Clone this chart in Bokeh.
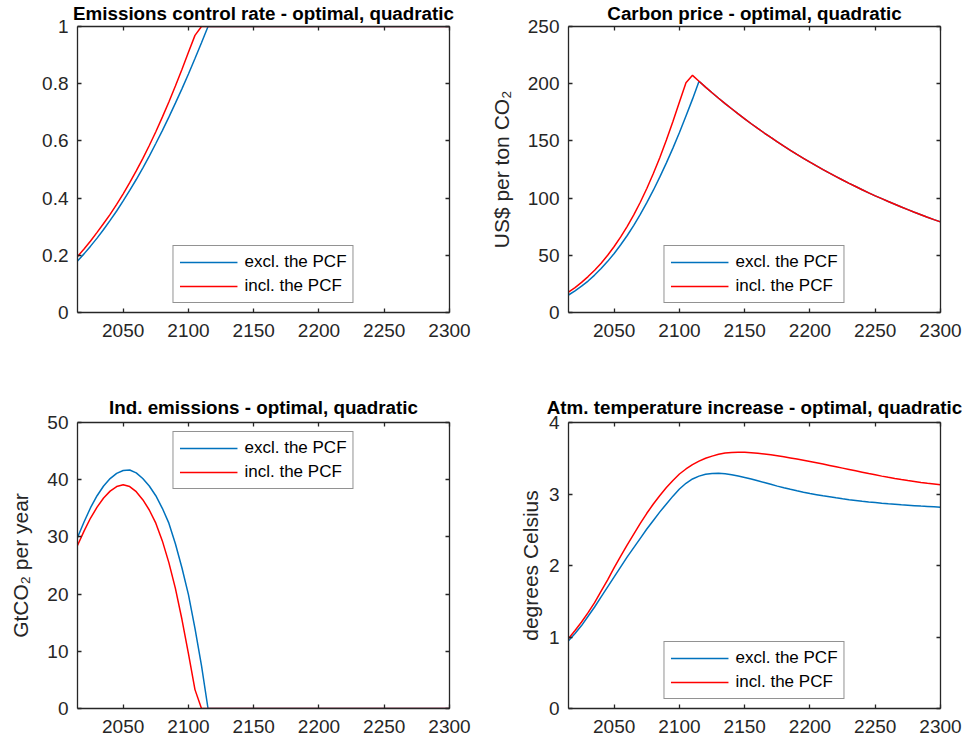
from bokeh.plotting import figure
from bokeh.models import (Range1d, LinearAxis, FixedTicker, Legend, LegendItem,
                          CustomJSTickFormatter)
from bokeh.layouts import gridplot
from bokeh.embed import file_html
from bokeh.resources import INLINE

# ---------------- data ----------------
years = list(range(2015, 2305, 5))  # 58 periods, 2015..2300

mu_excl = [0.180, 0.205, 0.232, 0.260, 0.290, 0.322, 0.355, 0.390, 0.427, 0.465,
           0.505, 0.547, 0.591, 0.636, 0.683, 0.732, 0.782, 0.834, 0.888, 0.943,
           1.0, 1.0, 1.0, 1.0, 1.0, 1.0, 1.0, 1.0, 1.0, 1.0,
           1.0, 1.0, 1.0, 1.0, 1.0, 1.0, 1.0, 1.0, 1.0, 1.0,
           1.0, 1.0, 1.0, 1.0, 1.0, 1.0, 1.0, 1.0, 1.0, 1.0,
           1.0, 1.0, 1.0, 1.0, 1.0, 1.0, 1.0, 1.0]
mu_incl = [0.196, 0.222, 0.250, 0.280, 0.311, 0.343, 0.378, 0.415, 0.454, 0.495,
           0.538, 0.584, 0.632, 0.683, 0.736, 0.792, 0.850, 0.910, 0.969, 1.0,
           1.0, 1.0, 1.0, 1.0, 1.0, 1.0, 1.0, 1.0, 1.0, 1.0,
           1.0, 1.0, 1.0, 1.0, 1.0, 1.0, 1.0, 1.0, 1.0, 1.0,
           1.0, 1.0, 1.0, 1.0, 1.0, 1.0, 1.0, 1.0, 1.0, 1.0,
           1.0, 1.0, 1.0, 1.0, 1.0, 1.0, 1.0, 1.0]

price_excl = [15.3, 18.9, 23.0, 27.5, 32.7, 38.4, 44.7, 51.6, 59.2, 67.3,
              76.1, 85.7, 96.0, 106.9, 118.5, 130.8, 143.7, 157.3, 171.7, 186.5,
              202.1, 197.0, 192.1, 187.3, 182.6, 178.1, 173.6, 169.3, 165.0, 160.9,
              156.9, 153.0, 149.2, 145.4, 141.8, 138.2, 134.8, 131.4, 128.1, 124.9,
              121.8, 118.8, 115.8, 112.9, 110.1, 107.3, 104.6, 102.0, 99.5, 97.0,
              94.6, 92.2, 89.9, 87.6, 85.5, 83.3, 81.2, 79.2]
price_incl = [17.9, 21.8, 26.3, 31.4, 37.0, 43.1, 50.0, 57.7, 66.1, 75.3,
              85.3, 96.4, 108.4, 121.5, 135.5, 150.8, 167.0, 184.0, 200.9, 207.3,
              202.1, 197.0, 192.1, 187.3, 182.6, 178.1, 173.6, 169.3, 165.0, 160.9,
              156.9, 153.0, 149.2, 145.4, 141.8, 138.2, 134.8, 131.4, 128.1, 124.9,
              121.8, 118.8, 115.8, 112.9, 110.1, 107.3, 104.6, 102.0, 99.5, 97.0,
              94.6, 92.2, 89.9, 87.6, 85.5, 83.3, 81.2, 79.2]

emis_excl = [29.9, 32.6, 35.1, 37.2, 38.9, 40.2, 41.1, 41.6, 41.7, 41.2,
             40.2, 38.9, 37.2, 35.0, 32.4, 28.8, 24.6, 19.9, 14.0, 7.5,
             0.0, 0.0, 0.0, 0.0, 0.0, 0.0, 0.0, 0.0, 0.0, 0.0,
             0.0, 0.0, 0.0, 0.0, 0.0, 0.0, 0.0, 0.0, 0.0, 0.0,
             0.0, 0.0, 0.0, 0.0, 0.0, 0.0, 0.0, 0.0, 0.0, 0.0,
             0.0, 0.0, 0.0, 0.0, 0.0, 0.0, 0.0, 0.0]
emis_incl = [28.5, 31.0, 33.3, 35.2, 36.8, 38.0, 38.8, 39.1, 38.8, 37.9,
             36.5, 34.7, 32.4, 29.3, 25.5, 21.0, 15.6, 9.6, 3.3, 0.0,
             0.0, 0.0, 0.0, 0.0, 0.0, 0.0, 0.0, 0.0, 0.0, 0.0,
             0.0, 0.0, 0.0, 0.0, 0.0, 0.0, 0.0, 0.0, 0.0, 0.0,
             0.0, 0.0, 0.0, 0.0, 0.0, 0.0, 0.0, 0.0, 0.0, 0.0,
             0.0, 0.0, 0.0, 0.0, 0.0, 0.0, 0.0, 0.0]

temp_excl = [0.946, 1.05, 1.16, 1.29, 1.42, 1.56, 1.70, 1.84, 1.98, 2.12,
             2.25, 2.38, 2.51, 2.63, 2.75, 2.86, 2.97, 3.07, 3.15, 3.21,
             3.25, 3.275, 3.288, 3.29, 3.283, 3.27, 3.252, 3.232, 3.21, 3.185,
             3.16, 3.135, 3.11, 3.087, 3.065, 3.044, 3.024, 3.006, 2.99, 2.974,
             2.96, 2.946, 2.933, 2.921, 2.91, 2.899, 2.889, 2.88, 2.871, 2.863,
             2.856, 2.849, 2.843, 2.837, 2.831, 2.826, 2.821, 2.816]
temp_incl = [0.979, 1.09, 1.21, 1.34, 1.48, 1.64, 1.80, 1.97, 2.13, 2.29,
             2.44, 2.59, 2.73, 2.86, 2.98, 3.09, 3.19, 3.28, 3.35, 3.41,
             3.46, 3.50, 3.53, 3.555, 3.572, 3.582, 3.585, 3.583, 3.578, 3.57,
             3.56, 3.548, 3.535, 3.52, 3.505, 3.489, 3.472, 3.455, 3.437, 3.419,
             3.40, 3.381, 3.362, 3.343, 3.324, 3.305, 3.286, 3.268, 3.25, 3.233,
             3.217, 3.202, 3.188, 3.175, 3.162, 3.15, 3.139, 3.128]

x_ticks = [2050, 2100, 2150, 2200, 2250, 2300]
mu_ticks = [0, 0.2, 0.4, 0.6, 0.8, 1]
price_ticks = [0, 50, 100, 150, 200, 250]
emis_ticks = [0, 10, 20, 30, 40, 50]
temp_ticks = [0, 1, 2, 3, 4]

series_names = ["excl. the PCF", "incl. the PCF"]

X_START, X_END = 2015, 2300

# ---------------- styling ----------------
BLUE = "#0072BD"
RED = "#FF0000"
AX = "#262626"
FONT = "Liberation Sans"


def style_axis(ax, labels, standoff=9):
    ax.axis_line_color = AX
    ax.axis_line_width = 1.3
    ax.major_tick_line_color = AX
    ax.major_tick_line_width = 1.3
    ax.major_tick_in = 4
    ax.major_tick_out = 0
    ax.minor_tick_line_color = None
    ax.minor_tick_in = 0
    ax.minor_tick_out = 0
    ax.major_label_text_font = FONT
    if labels:
        ax.major_label_text_font_size = "19px"
        ax.major_label_text_color = AX
        ax.major_label_standoff = standoff
    else:
        ax.major_label_text_font_size = "0px"
        ax.major_label_text_color = None
        ax.major_label_standoff = 0


def make_panel(title, ylabel, ymax, yticks, excl, incl, legend_loc, borders,
               lab_standoff, title_standoff):
    left, right, top, bottom = borders
    p = figure(width=482, height=372, x_range=Range1d(X_START, X_END),
               y_range=Range1d(0, ymax), output_backend="svg",
               toolbar_location=None, x_axis_type=None, y_axis_type=None,
               min_border_left=left, min_border_right=right,
               min_border_top=top, min_border_bottom=bottom)
    p.outline_line_color = None
    p.background_fill_color = "white"
    p.border_fill_color = "white"

    fmt = CustomJSTickFormatter(code="return String(tick);")
    xt = FixedTicker(ticks=x_ticks)
    yt = FixedTicker(ticks=yticks)

    bax = LinearAxis(ticker=xt, formatter=fmt)
    style_axis(bax, True, 11)
    p.add_layout(bax, "below")
    tax = LinearAxis(ticker=xt, formatter=fmt)
    style_axis(tax, False)
    p.add_layout(tax, "above")
    lax = LinearAxis(ticker=yt, formatter=fmt)
    style_axis(lax, True, 9)
    if ylabel:
        lax.axis_label = ylabel
        lax.axis_label_text_font = FONT
        lax.axis_label_text_font_size = "21px"
        lax.axis_label_text_font_style = "normal"
        lax.axis_label_text_color = AX
        lax.axis_label_standoff = lab_standoff
    p.add_layout(lax, "left")
    rax = LinearAxis(ticker=yt, formatter=fmt)
    style_axis(rax, False)
    p.add_layout(rax, "right")

    p.title.text = title
    p.title.align = "center"
    p.title.vertical_align = "top"
    p.title.text_font = FONT
    p.title.text_font_size = "18.8px"
    p.title.text_font_style = "bold"
    p.title.text_color = "#000000"
    p.title.standoff = title_standoff

    r1 = p.line(years, excl, line_color=BLUE, line_width=1.5)
    r2 = p.line(years, incl, line_color=RED, line_width=1.5)

    legend = Legend(items=[LegendItem(label=series_names[0], renderers=[r1]),
                           LegendItem(label=series_names[1], renderers=[r2])],
                    location=legend_loc)
    legend.border_line_color = AX
    legend.border_line_width = 1.2
    legend.background_fill_color = "white"
    legend.background_fill_alpha = 1
    legend.label_text_font = FONT
    legend.label_text_font_size = "17px"
    legend.label_text_color = "#000000"
    legend.glyph_width = 58
    legend.glyph_height = 16
    legend.label_height = 16
    legend.label_standoff = 7
    legend.padding = 6
    legend.spacing = 4
    legend.margin = 9
    p.add_layout(legend, "center")
    return p


p1 = make_panel("Emissions control rate - optimal, quadratic", None, 1, mu_ticks,
                mu_excl, mu_incl, "bottom_center", (77, 33, 26, 60), 8, 2)
p2 = make_panel("Carbon price - optimal, quadratic", "US$ per ton CO\u2082", 250, price_ticks,
                price_excl, price_incl, "bottom_center", (86, 24, 26, 60), 12, 2)
p3 = make_panel("Ind. emissions - optimal, quadratic", "GtCO\u2082 per year", 50, emis_ticks,
                emis_excl, emis_incl, "top_center", (77, 33, 50, 36), 12, 5)
p4 = make_panel("Atm. temperature increase - optimal, quadratic", "degrees Celsius", 4, temp_ticks,
                temp_excl, temp_incl, "bottom_center", (86, 24, 50, 36), 4, 5)

grid = gridplot([[p1, p2], [p3, p4]], toolbar_location=None)

open("out.html", "w").write(file_html(grid, INLINE))
